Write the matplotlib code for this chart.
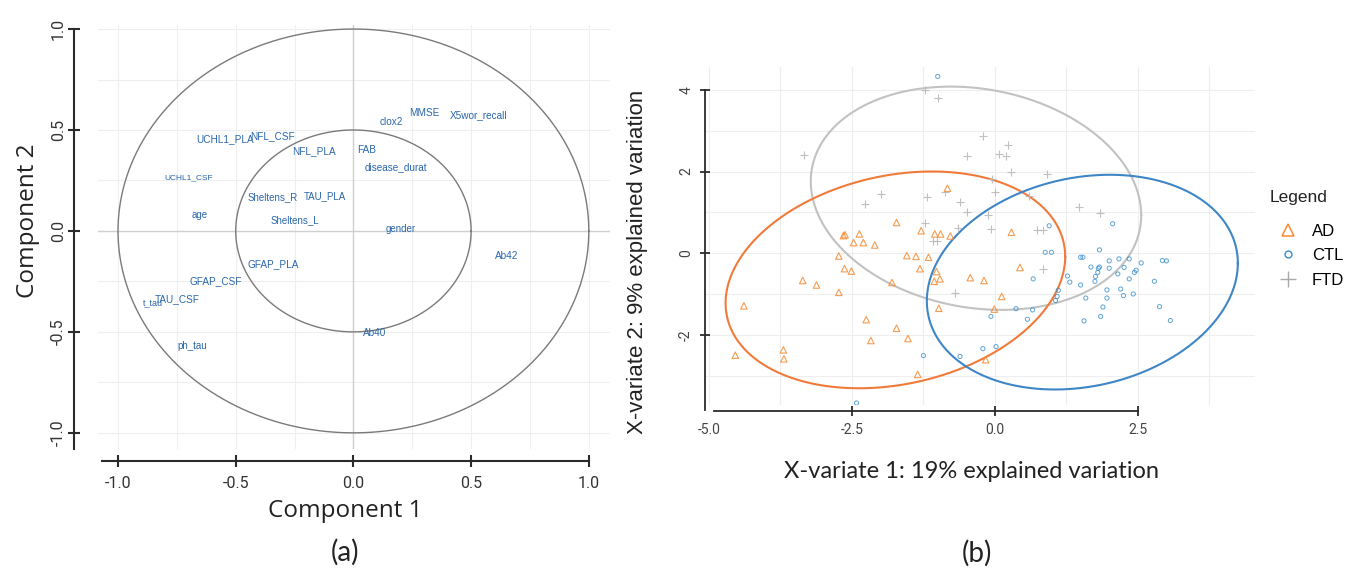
import numpy as np
import matplotlib
matplotlib.use("Agg")
import matplotlib.pyplot as plt
from matplotlib.lines import Line2D

# ---------------------------------------------------------------------------
# Panel (a): correlation circle, variable coordinates
var_names = ['X5wor_recall', 'MMSE', 'clox2', 'UCHL1_PLA', 'NFL_CSF', 'NFL_PLA',
             'FAB', 'disease_durat', 'UCHL1_CSF', 'Sheltens_R', 'TAU_PLA', 'age',
             'Sheltens_L', 'gender', 'Ab42', 'GFAP_PLA', 'GFAP_CSF', 'TAU_CSF',
             't_tau', 'Ab40', 'ph_tau']
var_x = [0.53, 0.30, 0.162, -0.545, -0.342, -0.169, 0.058, 0.179, -0.70, -0.342,
         -0.119, -0.655, -0.247, 0.20, 0.65, -0.339, -0.587, -0.75, -0.85, 0.089, -0.684]
var_y = [0.574, 0.583, 0.541, 0.455, 0.472, 0.393, 0.401, 0.318, 0.261, 0.167,
         0.170, 0.081, 0.054, 0.01, -0.125, -0.163, -0.251, -0.337, -0.353, -0.507, -0.571]
var_size = [7.2, 7.2, 7.2, 7.2, 7.2, 7.2, 7.2, 7.2, 6.0, 7.0,
            7.0, 7.0, 7.0, 7.0, 7.2, 7.2, 7.2, 7.2, 6.5, 7.2, 7.0]
circle_radii = [1.0, 0.5]
comp_ticks = [-1.0, -0.5, 0.0, 0.5, 1.0]

# ---------------------------------------------------------------------------
# Panel (b): sample scores on the first two X-variates
ad_x = [-0.83, -1.72, -1.29, -2.65, -2.62, -2.37, -2.47, -2.30, -2.10, -1.05, -0.95,
        -0.78, 0.29, -2.73, -1.54, -1.38, -1.16, -2.63, -2.51, -1.31, -1.02, -0.96,
        -1.06, 0.44, -0.43, -0.19, -3.36, -3.12, -2.73, -1.80, 0.12, -4.39, -0.98,
        -0.01, -2.25, -1.72, -2.17, -1.52, -3.70, -3.69, -4.54, -0.16, -1.35]
ad_y = [1.59, 0.75, 0.55, 0.43, 0.45, 0.47, 0.26, 0.26, 0.20, 0.47, 0.47,
        0.42, 0.51, -0.07, -0.06, -0.08, -0.10, -0.38, -0.44, -0.38, -0.45, -0.63,
        -0.69, -0.35, -0.60, -0.67, -0.67, -0.78, -0.96, -0.72, -1.06, -1.29, -1.35,
        -1.37, -1.63, -1.84, -2.14, -2.09, -2.37, -2.59, -2.50, -2.61, -2.97]

ctl_x = [-1.0, 2.06, 0.95, 0.88, 0.99, 1.83, 1.50, 1.54, 2.0, 2.17, 2.35, 2.56, 2.93,
         3.0, 1.68, 1.81, 1.83, 2.0, 2.26, 2.44, 2.47, 1.80, 1.76, 2.15, 2.35, 2.79,
         0.67, 1.27, 1.31, 1.50, 1.75, 1.96, 2.20, 2.25, 2.42, 1.96, 1.59, 1.11, 1.09,
         1.06, 1.89, 2.88, 0.37, 0.66, 1.85, 1.56, 3.07, -0.07, 0.57, 0.02, -0.21,
         -0.61, -1.25, -2.42]
ctl_y = [4.33, 0.72, 0.67, 0.02, 0.02, 0.08, -0.10, -0.10, -0.19, -0.14, -0.14, -0.24,
         -0.18, -0.19, -0.34, -0.37, -0.34, -0.37, -0.35, -0.47, -0.42, -0.47, -0.57,
         -0.51, -0.63, -0.69, -0.63, -0.56, -0.71, -0.78, -0.69, -0.90, -0.88, -1.04,
         -1.0, -1.10, -1.10, -0.91, -1.06, -1.16, -1.32, -1.31, -1.36, -1.39, -1.55,
         -1.66, -1.65, -1.55, -1.62, -2.29, -2.34, -2.53, -2.51, -3.67]

ftd_x = [-1.22, -1.0, -3.34, -0.21, 0.23, -0.48, 0.08, 0.19, 0.28, -0.05, 0.92,
         0.01, 0.59, 1.47, 1.84, -1.99, -1.18, -2.28, -0.87, -0.61, -0.48, -0.12,
         -1.23, -0.65, -0.07, 0.74, 0.84, -1.09, -1.02, 0.85, -0.69]
ftd_y = [4.0, 3.8, 2.41, 2.87, 2.65, 2.37, 2.43, 2.37, 1.98, 1.81, 1.94,
         1.49, 1.39, 1.13, 0.98, 1.44, 1.37, 1.21, 1.51, 1.25, 1.02, 0.94,
         0.73, 0.61, 0.59, 0.56, 0.56, 0.29, 0.29, -0.39, -0.98]

# confidence ellipses: centre and covariance terms
ell_center = {'AD': (-1.74, -0.655), 'CTL': (1.53, -0.71), 'FTD': (-0.33, 1.345)}
ell_sd = {'AD': (2.97, 2.655), 'CTL': (2.72, 2.63), 'FTD': (2.89, 2.735)}
ell_cov_xy = {'AD': 1.69, 'CTL': 1.26, 'FTD': -1.2}

group_names = ['AD', 'CTL', 'FTD']
group_colors = {'AD': '#F68B33', 'CTL': '#388ECC', 'FTD': '#B8B8B8'}
ellipse_colors = {'AD': '#F07A3A', 'CTL': '#3F86C6', 'FTD': '#C2C2C2'}

###################################################################################################

W, H = 1349, 581
PT = 0.72  # points per pixel at dpi 100
fig = plt.figure(figsize=(W / 100, H / 100), dpi=100)
fig.patch.set_facecolor('white')

def px_axes(left, top, right, bottom):
    return fig.add_axes([left / W, 1 - bottom / H, (right - left) / W, (bottom - top) / H])

# ---------------- panel (a) ----------------
ax1 = px_axes(98, 25, 610, 449)
ax1.set_xlim(-1.085, 1.09)
ax1.set_ylim(-1.08, 1.02)

grid_vals = np.arange(-1.0, 1.01, 0.25)
for g in grid_vals:
    ax1.axvline(g, color='#efefef', lw=0.8, zorder=0)
    ax1.axhline(g, color='#efefef', lw=0.8, zorder=0)
ax1.axhline(0, color='#d0d0d0', lw=1.0, zorder=1)
ax1.axvline(0, color='#d0d0d0', lw=1.0, zorder=1)

theta = np.linspace(0, 2 * np.pi, 400)
for r in circle_radii:
    ax1.plot(r * np.cos(theta), r * np.sin(theta), color='#7a7a7a', lw=1.0, zorder=2)

for name, x, y, s in zip(var_names, var_x, var_y, var_size):
    ax1.text(x, y, name, color='#2A66AD', fontsize=s, ha='center', va='center',
             family=['Liberation Sans', 'DejaVu Sans'], zorder=3)

for side in ['top', 'right']:
    ax1.spines[side].set_visible(False)
ax1.spines['left'].set_position(('outward', 24 * PT))
ax1.spines['bottom'].set_position(('outward', 12 * PT))
ax1.spines['left'].set_bounds(-1.08, 1.0)
ax1.spines['bottom'].set_bounds(-1.07, 1.0)
for side in ['left', 'bottom']:
    ax1.spines[side].set_linewidth(1.5)
    ax1.spines[side].set_color('#2b2b2b')
ax1.set_xticks(comp_ticks)
ax1.set_yticks(comp_ticks)
ax1.set_xticklabels(['%.1f' % v for v in comp_ticks])
ax1.set_yticklabels(['%.1f' % v for v in comp_ticks], rotation=90, va='center')
ax1.tick_params(direction='inout', length=8, width=1.5, color='#2b2b2b',
                labelsize=11.5, labelcolor='#333333')
ax1.tick_params(axis='x', pad=7)
ax1.tick_params(axis='y', pad=2)
for lab in ax1.get_xticklabels() + ax1.get_yticklabels():
    lab.set_family(['Roboto', 'DejaVu Sans'])

fig.text(345 / W, 1 - 511 / H, 'Component 1', ha='center', va='center',
         fontsize=17.5, family=['Open Sans', 'DejaVu Sans'], color='#222222')
fig.text(28 / W, 1 - 221 / H, 'Component 2', ha='center', va='center', rotation=90,
         fontsize=17.5, family=['Open Sans', 'DejaVu Sans'], color='#222222')
fig.text(345 / W, 1 - 552 / H, '(a)', ha='center', va='center',
         fontsize=20, family=['Lato', 'DejaVu Sans'], color='#222222')

# ---------------- panel (b) ----------------
ax2 = px_axes(705, 67, 1255, 405)
ax2.set_xlim(-5.07, 4.55)
ax2.set_ylim(-3.72, 4.56)

for g in np.arange(-5.0, 4.6, 1.25):
    ax2.axvline(g, color='#eeeeee', lw=0.8, zorder=0)
for g in np.arange(-3, 5, 1):
    ax2.axhline(g, color='#eeeeee', lw=0.8, zorder=0)

ax2.scatter(ad_x, ad_y, marker='^', s=22, facecolors='none',
            edgecolors=group_colors['AD'], linewidths=0.8, alpha=0.85, zorder=3)
ax2.scatter(ctl_x, ctl_y, marker='o', s=9, facecolors='none',
            edgecolors=group_colors['CTL'], linewidths=0.7, alpha=0.8, zorder=3)
ax2.scatter(ftd_x, ftd_y, marker='+', s=28, color=group_colors['FTD'],
            linewidths=0.8, alpha=0.9, zorder=3)

t = np.linspace(0, 2 * np.pi, 300)
for grp in ['FTD', 'AD', 'CTL']:
    sx, sy = ell_sd[grp]
    cov = np.array([[sx ** 2, ell_cov_xy[grp]], [ell_cov_xy[grp], sy ** 2]])
    L = np.linalg.cholesky(cov)
    pts = np.array(ell_center[grp])[:, None] + L @ np.vstack([np.cos(t), np.sin(t)])
    ax2.plot(pts[0], pts[1], color=ellipse_colors[grp], lw=1.5, zorder=2)

for side in ['top', 'right']:
    ax2.spines[side].set_visible(False)
ax2.spines['bottom'].set_position(('outward', 6 * PT))
ax2.spines['left'].set_bounds(-3.85, 4.0)
ax2.spines['bottom'].set_bounds(-4.91, 2.5)
for side in ['left', 'bottom']:
    ax2.spines[side].set_linewidth(1.3)
    ax2.spines[side].set_color('#2b2b2b')

x_ticks_b = [-5.0, -2.5, 0.0, 2.5]
y_ticks_b = [-2, 0, 2, 4]
ax2.set_xticks(x_ticks_b)
ax2.set_xticklabels(['%.1f' % v for v in x_ticks_b])
ax2.set_yticks(y_ticks_b)
ax2.set_yticklabels([str(v) for v in y_ticks_b], rotation=90, va='center')
ax2.tick_params(direction='inout', length=7, width=1.3, color='#2b2b2b',
                labelsize=10, labelcolor='#444444', pad=5)
ax2.xaxis.get_major_ticks()[0].tick1line.set_visible(False)
for lab in ax2.get_xticklabels() + ax2.get_yticklabels():
    lab.set_family(['Roboto', 'DejaVu Sans'])

fig.text(972 / W, 1 - 472 / H, 'X-variate 1: 19% explained variation', ha='center',
         va='center', fontsize=17, family=['Lato', 'DejaVu Sans'], color='#222222')
fig.text(637 / W, 1 - 262 / H, 'X-variate 2: 9% explained variation', ha='center',
         va='center', rotation=90, fontsize=16, family=['Liberation Sans', 'DejaVu Sans'],
         color='#222222')
fig.text(977 / W, 1 - 553 / H, '(b)', ha='center', va='center',
         fontsize=20, family=['Lato', 'DejaVu Sans'], color='#222222')

# legend: title as its own text, entries spaced like the reference
fig.text(1270 / W, 1 - 197 / H, 'Legend', ha='left', va='center', fontsize=12.5,
         family=['Liberation Sans', 'DejaVu Sans'], color='#222222')
handles = [
    Line2D([], [], ls='none', marker='^', ms=9, mfc='none', mec=group_colors['AD'], mew=1.1),
    Line2D([], [], ls='none', marker='o', ms=5, mfc='none', mec=group_colors['CTL'], mew=1.0),
    Line2D([], [], ls='none', marker='+', ms=11, color='#AAAAAA', mew=1.0),
]
fig.legend(handles, group_names, loc='upper left',
           bbox_to_anchor=(1265 / W, 1 - 212 / H), frameon=False,
           handlelength=1.4, handletextpad=0.7, labelspacing=0.58, borderpad=0.2,
           prop={'family': ['Liberation Sans', 'DejaVu Sans'], 'size': 12})

fig.savefig('out.png', dpi=100, facecolor='white')
